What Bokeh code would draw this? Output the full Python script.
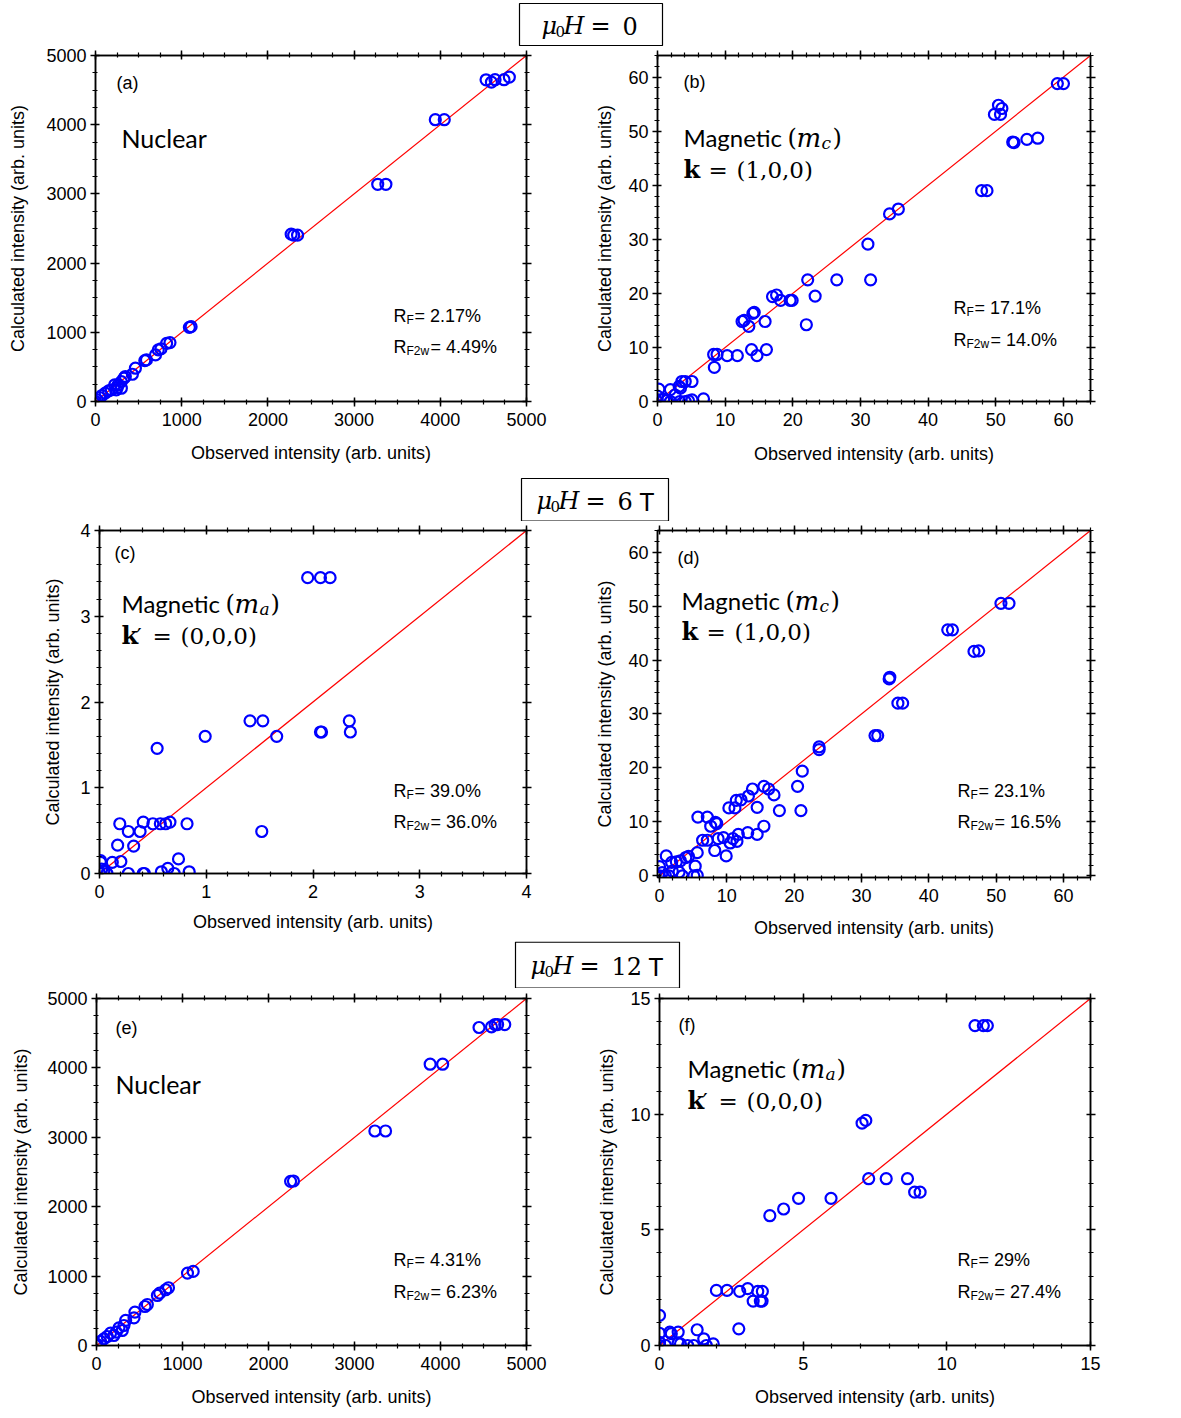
from bokeh.plotting import figure
from bokeh.layouts import column, row
from bokeh.models import Range1d, SingleIntervalTicker, LinearAxis
from bokeh.core.properties import value
from bokeh.embed import file_html
from bokeh.resources import INLINE

# ---------------- data (observed, calculated) ----------------
a_obs = [0, 19, 47, 74, 113, 152, 183, 222, 241, 253, 261, 300, 300, 331, 346, 428, 463, 572, 591, 696,
         728, 759, 825, 864, 1089, 1109, 2270, 2299, 2344, 3274, 3369, 3942, 4046, 4531, 4593, 4635, 4739, 4801]
a_calc = [0, 24, 58, 87, 120, 154, 168, 240, 168, 202, 240, 288, 192, 337, 361, 394, 481, 591, 601, 673,
          745, 760, 841, 851, 1072, 1082, 2418, 2404, 2404, 3139, 3139, 4072, 4072, 4649, 4615, 4650, 4650, 4688]

b_obs = [0, 0, 0.2, 0.9, 1.4, 1.9, 1.9, 2.6, 3.2, 3.3, 3.4, 3.6, 4.1, 4.6, 5.1, 5.1, 6.8, 8.3, 8.4, 8.8,
         10.3, 11.8, 12.5, 13.5, 13.9, 14.1, 14.7, 15.9, 16.1, 17.0, 17.6, 18.2, 19.6, 19.9, 22.0, 22.2, 23.3,
         26.5, 31.1, 31.5, 34.3, 35.6, 47.9, 48.7, 49.8, 50.4, 50.7, 50.9, 52.5, 52.7, 54.6, 56.2, 59.1, 60.0,
         12.8, 14.3, 4.1]
b_calc = [0, 1.0, 2.3, 0.4, 0.2, 2.2, 0, 1.2, 2.8, 0, 2.5, 3.7, 3.7, 0.1, 3.7, 0.3, 0.5, 8.7, 6.3, 8.7,
          8.5, 8.5, 14.8, 13.9, 9.6, 16.3, 8.5, 14.8, 9.6, 19.4, 19.7, 18.7, 18.7, 18.7, 14.2, 22.5, 19.5,
          22.5, 29.1, 22.5, 34.7, 35.6, 39.0, 39.0, 53.1, 54.8, 53.1, 54.2, 48.0, 47.9, 48.5, 48.7, 58.8, 58.8,
          15.0, 16.5, 0]

c_obs = [0, 0.01, 0.01, 0.02, 0.04, 0.07, 0.12, 0.17, 0.19, 0.20, 0.27, 0.27, 0.32, 0.38, 0.41, 0.41, 0.42,
         0.50, 0.54, 0.57, 0.58, 0.62, 0.64, 0.66, 0.70, 0.74, 0.82, 0.84, 0.99, 1.41, 1.52, 1.53, 1.66, 1.95,
         2.07, 2.07, 2.08, 2.16, 2.34, 2.35]
c_calc = [0, 0.15, 0.13, 0.05, 0.03, 0, 0.13, 0.33, 0.58, 0.14, 0.49, 0, 0.32, 0.49, 0.60, 0, 0,
          0.58, 1.46, 0.58, 0.02, 0.58, 0.06, 0.60, 0, 0.17, 0.58, 0.02, 1.60, 1.78, 0.49, 1.78, 1.60, 3.45,
          3.45, 1.65, 1.65, 3.45, 1.78, 1.65]

d_obs = [0, 0, 0.4, 0.9, 1.0, 1.4, 1.8, 1.9, 2.5, 2.9, 3.1, 3.4, 3.9, 4.3, 5.1, 5.3, 5.6, 5.6, 5.7, 6.4,
         7.1, 7.1, 7.6, 8.2, 8.3, 8.5, 8.7, 9.5, 9.9, 10.3, 10.5, 10.9, 11.2, 11.4, 11.5, 11.7, 12.1, 13.1,
         13.2, 13.8, 14.5, 14.5, 15.5, 15.5, 16.2, 17.0, 17.8, 20.5, 21.0, 21.2, 23.7, 23.7, 32.0, 32.4, 34.1,
         34.2, 35.4, 36.1, 42.8, 43.5, 46.7, 47.4, 50.7, 51.9]
d_calc = [0, 1.7, 0.6, 0, 3.7, 0, 2.5, 0.9, 2.6, 0.7, 2.8, 0, 3.4, 3.6, 0, 1.8, 4.3, 0.1, 10.9, 6.6,
          10.9, 6.6, 9.2, 4.7, 9.9, 9.7, 6.9, 7.1, 3.7, 12.6, 6.1, 6.9, 12.6, 14.0, 6.4, 7.7, 14.1, 8.0,
          14.8, 16.1, 12.7, 7.7, 16.6, 9.2, 16.1, 15.0, 12.1, 16.6, 12.1, 19.4, 23.9, 23.4, 26.0, 26.0, 36.5,
          36.8, 32.0, 32.0, 45.6, 45.6, 41.6, 41.7, 50.5, 50.5]

e_obs = [0, 8, 47, 86, 125, 163, 202, 230, 261, 300, 319, 339, 436, 447, 564, 591, 708, 735, 805, 837,
         1058, 1124, 2257, 2290, 3237, 3361, 3880, 4025, 4448, 4593, 4635, 4664, 4747]
e_calc = [0, 14, 58, 96, 130, 178, 144, 192, 255, 216, 288, 361, 399, 481, 562, 591, 721, 755, 803, 832,
          1043, 1067, 2365, 2370, 3091, 3091, 4053, 4053, 4582, 4591, 4625, 4625, 4625]

f_obs = [0, 0, 0, 0, 0.21, 0.36, 0.41, 0.65, 0.65, 0.73, 0.98, 1.19, 1.31, 1.54, 1.63, 1.87, 1.98, 2.35,
         2.76, 2.79, 3.07, 3.26, 3.42, 3.51, 3.57, 3.58, 3.84, 4.32, 4.84, 5.97, 7.05, 7.18, 7.28, 7.89,
         8.63, 8.88, 9.07, 10.98, 11.27, 11.41]
f_calc = [1.30, 0.53, 0.14, 0, 0, 0.58, 0.51, 0.58, 0.10, 0.07, 0, 0, 0.68, 0.29, 0, 0.07, 2.38, 2.38,
          0.72, 2.34, 2.46, 1.92, 2.34, 1.92, 1.92, 2.34, 5.61, 5.90, 6.36, 6.36, 9.61, 9.73, 7.21, 7.21,
          7.21, 6.63, 6.63, 13.83, 13.83, 13.83]

panel_tags = ["(a)", "(b)", "(c)", "(d)", "(e)", "(f)"]
rf_values = ["2.17%", "17.1%", "39.0%", "23.1%", "4.31%", "29%"]
rf2w_values = ["4.49%", "14.0%", "36.0%", "16.5%", "6.23%", "27.4%"]
field_values = ["0", "6", "12"]

XLABEL = "Observed intensity (arb. units)"
YLABEL = "Calculated intensity (arb. units)"

SANS = "Liberation Sans"
SERIF = "DejaVu Serif"
CAL = "Lato"


def txt(p, rng, fw, fh, dx, dy, s, font, size, style="normal"):
    x0, x1 = rng
    x = x0 + dx / fw * (x1 - x0)
    y = x1 - dy / fh * (x1 - x0)
    p.text(x=[x], y=[y], text=[s], text_font=value(font), text_font_size=value(f"{size}px"),
           text_font_style=style, text_baseline="alphabetic", text_align="left", text_color="black")


def style_axis(ax, interval, nminor, show_labels=True, label_standoff=6):
    ax.ticker = SingleIntervalTicker(interval=interval, num_minor_ticks=nminor)
    ax.axis_line_color = "black"
    ax.axis_line_width = 1.5
    ax.major_tick_line_color = "black"
    ax.major_tick_line_width = 1.5
    ax.minor_tick_line_color = "black"
    ax.minor_tick_line_width = 1.2
    ax.major_tick_in = 4
    ax.major_tick_out = 5
    ax.minor_tick_in = 2
    ax.minor_tick_out = 3
    if show_labels:
        ax.major_label_text_font = SANS
        ax.major_label_text_font_size = "18px"
        ax.major_label_text_color = "black"
        ax.major_label_standoff = label_standoff
    else:
        ax.major_label_text_font_size = "1px"
        ax.major_label_text_color = None
        ax.major_label_standoff = 0


def panel(obs, calc, rng, interval, nminor, fw, fh, bl, br, bt, bb, ystand, xstand):
    p = figure(frame_width=fw, frame_height=fh, x_range=Range1d(*rng), y_range=Range1d(*rng),
               output_backend="svg", toolbar_location=None,
               min_border_left=bl, min_border_right=br, min_border_top=bt, min_border_bottom=bb)
    p.xgrid.visible = False
    p.ygrid.visible = False
    p.outline_line_color = "black"
    p.outline_line_width = 1.5
    p.background_fill_color = "white"
    p.border_fill_color = "white"
    style_axis(p.xaxis[0], interval, nminor, label_standoff=6)
    style_axis(p.yaxis[0], interval, nminor, label_standoff=4)
    for ax in (p.xaxis[0], p.yaxis[0]):
        ax.axis_label_text_font = SANS
        ax.axis_label_text_font_size = "18px"
        ax.axis_label_text_font_style = "normal"
        ax.axis_label_text_color = "black"
    p.xaxis[0].axis_label = XLABEL
    p.yaxis[0].axis_label = YLABEL
    p.xaxis[0].axis_label_standoff = xstand
    p.yaxis[0].axis_label_standoff = ystand
    top = LinearAxis()
    right = LinearAxis()
    style_axis(top, interval, nminor, show_labels=False)
    style_axis(right, interval, nminor, show_labels=False)
    p.add_layout(top, "above")
    p.add_layout(right, "right")
    p.line(x=list(rng), y=list(rng), line_color="#FF0000", line_width=1.2)
    p.scatter(x=obs, y=calc, marker="circle", size=11, fill_color=None,
              line_color="#0000FF", line_width=2.2)
    return p


def rfac(p, rng, fw, fh, dx, dy1, dy2, v1, v2):
    txt(p, rng, fw, fh, dx, dy1, "R", SANS, 18)
    txt(p, rng, fw, fh, dx + 13, dy1 + 4, "F", SANS, 12)
    txt(p, rng, fw, fh, dx + 21, dy1, "= " + v1, SANS, 18)
    txt(p, rng, fw, fh, dx, dy2, "R", SANS, 18)
    txt(p, rng, fw, fh, dx + 13, dy2 + 4, "F2w", SANS, 12)
    txt(p, rng, fw, fh, dx + 37, dy2, "= " + v2, SANS, 18)


def maglabel(p, rng, fw, fh, dx, dy1, dy2, sub, kprime, kval):
    txt(p, rng, fw, fh, dx, dy1, "Magnetic", CAL, 24)
    txt(p, rng, fw, fh, dx + 104, dy1, "(", SERIF, 24)
    txt(p, rng, fw, fh, dx + 113, dy1, "m", SERIF, 26, "italic")
    txt(p, rng, fw, fh, dx + 138, dy1 + 5, sub, SERIF, 17, "italic")
    txt(p, rng, fw, fh, dx + 149, dy1, ")", SERIF, 24)
    txt(p, rng, fw, fh, dx, dy2, "k", SERIF, 24, "bold")
    if kprime:
        txt(p, rng, fw, fh, dx + 15, dy2, "\u2032", SERIF, 23)
        txt(p, rng, fw, fh, dx + 31, dy2, "=", SERIF, 23)
        txt(p, rng, fw, fh, dx + 59, dy2, kval, SERIF, 23)
    else:
        txt(p, rng, fw, fh, dx + 25, dy2, "=", SERIF, 23)
        txt(p, rng, fw, fh, dx + 53, dy2, kval, SERIF, 23)


def header(h, box_top, box_bottom, left, right, tx, mid, val, unit):
    p = figure(frame_width=1181, frame_height=h, x_range=Range1d(0, 1181), y_range=Range1d(0, h),
               output_backend="svg", toolbar_location=None, min_border=0,
               x_axis_type=None, y_axis_type=None, outline_line_color=None)
    p.xgrid.visible = False
    p.ygrid.visible = False
    p.quad(left=[left], right=[right], top=[h - box_top], bottom=[h - box_bottom],
           fill_color=None, line_color="black", line_width=1.2)

    def t(x, y, s, font, size, style="normal"):
        p.text(x=[x], y=[h - y], text=[s], text_font=value(font), text_font_size=value(f"{size}px"),
               text_font_style=style, text_baseline="alphabetic", text_align="left", text_color="black")
    t(tx, mid, "\u03bc", SERIF, 24, "italic")
    t(tx + 14, mid + 6, "0", SERIF, 15)
    t(tx + 22, mid, "H", SERIF, 24, "italic")
    t(tx + 49, mid, "=", SERIF, 24)
    t(tx + 81, mid, val, SERIF, 24)
    if unit:
        t(tx + 81 + 15 * len(val) + 7, mid, unit, CAL, 25)
    return p


# ---------------- panels ----------------
ra = (0, 5000)
fa = panel(a_obs, a_calc, ra, 1000, 4, 431, 346, 95, 40, 9, 75, 15, 14)
txt(fa, ra, 431, 346, 21, 27, panel_tags[0], SANS, 18)
txt(fa, ra, 431, 346, 26, 82, "Nuclear", CAL, 25)
rfac(fa, ra, 431, 346, 298, 260, 291, rf_values[0], rf2w_values[0])

rb = (0, 64)
fb = panel(b_obs, b_calc, rb, 10, 5, 433, 346, 91, 91, 9, 75, 10, 15)
txt(fb, rb, 433, 346, 26, 26, panel_tags[1], SANS, 18)
maglabel(fb, rb, 433, 346, 26, 82, 114, "c", False, "(1,0,0)")
rfac(fb, rb, 433, 346, 296, 252, 284, rf_values[1], rf2w_values[1])

rc = (0, 4)
fc = panel(c_obs, c_calc, rc, 1, 5, 427, 343, 99, 40, 9, 68, 14, 11)
txt(fc, rc, 427, 343, 15, 22, panel_tags[2], SANS, 18)
maglabel(fc, rc, 427, 343, 22, 73, 105, "a", True, "(0,0,0)")
rfac(fc, rc, 427, 343, 294, 260, 291, rf_values[2], rf2w_values[2])

rd = (-0.3, 64)
fd = panel(d_obs, d_calc, rd, 10, 5, 433, 347, 91, 91, 9, 64, 10, 13)
txt(fd, rd, 433, 347, 20, 27, panel_tags[3], SANS, 18)
maglabel(fd, rd, 433, 347, 24, 70, 101, "c", False, "(1,0,0)")
rfac(fd, rd, 433, 347, 300, 260, 291, rf_values[3], rf2w_values[3])

re_ = (0, 5000)
fe = panel(e_obs, e_calc, re_, 1000, 4, 430, 347, 96, 40, 10, 73, 13, 14)
txt(fe, re_, 430, 347, 19, 29, panel_tags[4], SANS, 18)
txt(fe, re_, 430, 347, 19, 85, "Nuclear", CAL, 25)
rfac(fe, re_, 430, 347, 297, 261, 293, rf_values[4], rf2w_values[4])

rf_ = (0, 15)
ff = panel(f_obs, f_calc, rf_, 5, 5, 431, 347, 93, 91, 10, 73, 10, 14)
txt(ff, rf_, 431, 347, 19, 26, panel_tags[5], SANS, 18)
maglabel(ff, rf_, 431, 347, 28, 70, 102, "a", True, "(0,0,0)")
rfac(ff, rf_, 431, 347, 298, 261, 293, rf_values[5], rf2w_values[5])

h1 = header(46, 3, 45, 519, 662, 541, 25, field_values[0], "")
h2 = header(45, 2, 44.5, 521, 668, 536, 24, field_values[1], "T")
h3 = header(47, 0.6, 46.5, 515, 679, 530, 24, field_values[2], "T")

layout = column(h1, row(fa, fb), h2, row(fc, fd), h3, row(fe, ff))

open("out.html", "w").write(file_html(layout, INLINE))
